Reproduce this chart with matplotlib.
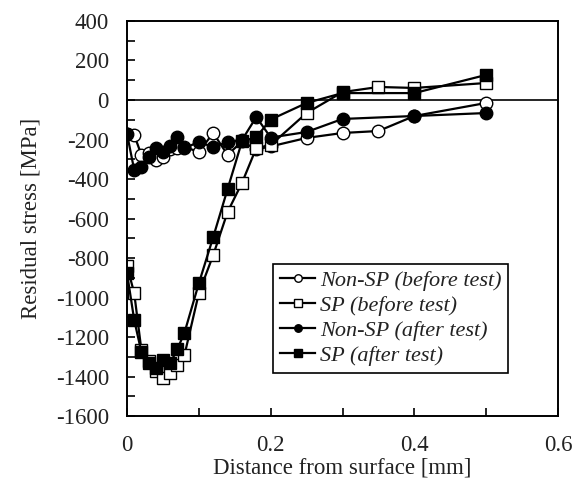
import matplotlib
matplotlib.use("Agg")
import matplotlib.pyplot as plt
from matplotlib.ticker import MultipleLocator

plt.rcParams['font.family'] = ['Liberation Serif', 'DejaVu Serif']
plt.rcParams['axes.unicode_minus'] = False

# Non-SP (before test)
x_nsp_before = [0, 0.01, 0.02, 0.03, 0.04, 0.05, 0.06, 0.07, 0.08, 0.1, 0.12, 0.14,
                0.16, 0.18, 0.2, 0.25, 0.3, 0.35, 0.4, 0.5]
y_nsp_before = [-172, -177, -278, -270, -304, -288, -250, -243, -238, -263, -167, -278,
                -210, -250, -235, -192, -167, -157, -81, -15]

# SP (before test)
x_sp_before = [0, 0.01, 0.02, 0.03, 0.04, 0.05, 0.06, 0.07, 0.08, 0.1, 0.12, 0.14,
               0.16, 0.18, 0.2, 0.25, 0.3, 0.35, 0.4, 0.5]
y_sp_before = [-840, -978, -1266, -1320, -1370, -1408, -1383, -1342, -1291, -978, -785, -567,
               -420, -243, -228, -66, 40, 66, 61, 86]

# Non-SP (after test)
x_nsp_after = [0, 0.01, 0.02, 0.03, 0.04, 0.05, 0.06, 0.07, 0.08, 0.1, 0.12, 0.14,
               0.16, 0.18, 0.2, 0.25, 0.3, 0.4, 0.5]
y_nsp_after = [-172, -354, -337, -288, -243, -263, -233, -187, -243, -213, -238, -213,
               -203, -86, -190, -162, -96, -81, -66]

# SP (after test)
x_sp_after = [0, 0.01, 0.02, 0.03, 0.04, 0.05, 0.06, 0.07, 0.08, 0.1, 0.12, 0.14,
              0.16, 0.18, 0.2, 0.25, 0.3, 0.4, 0.5]
y_sp_after = [-877, -1114, -1276, -1333, -1359, -1317, -1333, -1262, -1178, -928, -694, -451,
              -210, -188, -99, -15, 35, 35, 127]

fig = plt.figure(figsize=(5.74, 4.86), dpi=100)
ax = fig.add_axes([0.2213, 0.144, 0.7508, 0.8128])

ax.axhline(0, color='black', linewidth=1.2, zorder=1)

kw = dict(color='black', linewidth=1.6, markersize=9, markeredgewidth=1.0,
          markeredgecolor='black')
ax.plot(x_nsp_before, y_nsp_before, marker='o', markerfacecolor='white',
        label='Non-SP (before test)', **kw)
ax.plot(x_sp_before, y_sp_before, marker='s', markerfacecolor='white',
        label='SP (before test)', **kw)
ax.plot(x_nsp_after, y_nsp_after, marker='o', markerfacecolor='black',
        label='Non-SP (after test)', **kw)
ax.plot(x_sp_after, y_sp_after, marker='s', markerfacecolor='black',
        label='SP (after test)', **kw)

ax.set_xlim(0, 0.6)
ax.set_ylim(-1600, 400)
ax.xaxis.set_major_locator(MultipleLocator(0.2))
ax.xaxis.set_minor_locator(MultipleLocator(0.1))
ax.yaxis.set_major_locator(MultipleLocator(200))
ax.yaxis.set_minor_locator(MultipleLocator(100))
ax.xaxis.set_major_formatter(plt.FuncFormatter(lambda v, p: '0' if v == 0 else f'{v:g}'))
ax.tick_params(which='both', direction='in', labelsize=16.5, colors='black',
               labelcolor='#222222', width=1.2, length=6)
ax.tick_params(axis='x', pad=14)
ax.tick_params(axis='y', pad=13)
for s in ax.spines.values():
    s.set_linewidth(1.4)

ax.set_xlabel('Distance from surface [mm]', fontsize=16.5, labelpad=1, color='#222222')
ax.set_ylabel('Residual stress [MPa]', fontsize=16.5, labelpad=10, color='#222222')

leg = ax.legend(loc='upper left', bbox_to_anchor=(0.339, 0.385), borderaxespad=0,
                fancybox=False, edgecolor='black', framealpha=1,
                prop={'style': 'italic', 'size': 16, 'family': 'Liberation Serif'},
                markerscale=0.6, handlelength=1.6, handletextpad=0.2,
                labelspacing=0.2, borderpad=0.3)
leg.get_frame().set_linewidth(1.2)
for t in leg.get_texts():
    t.set_color('#222222')

fig.savefig('out.png', dpi=100)
